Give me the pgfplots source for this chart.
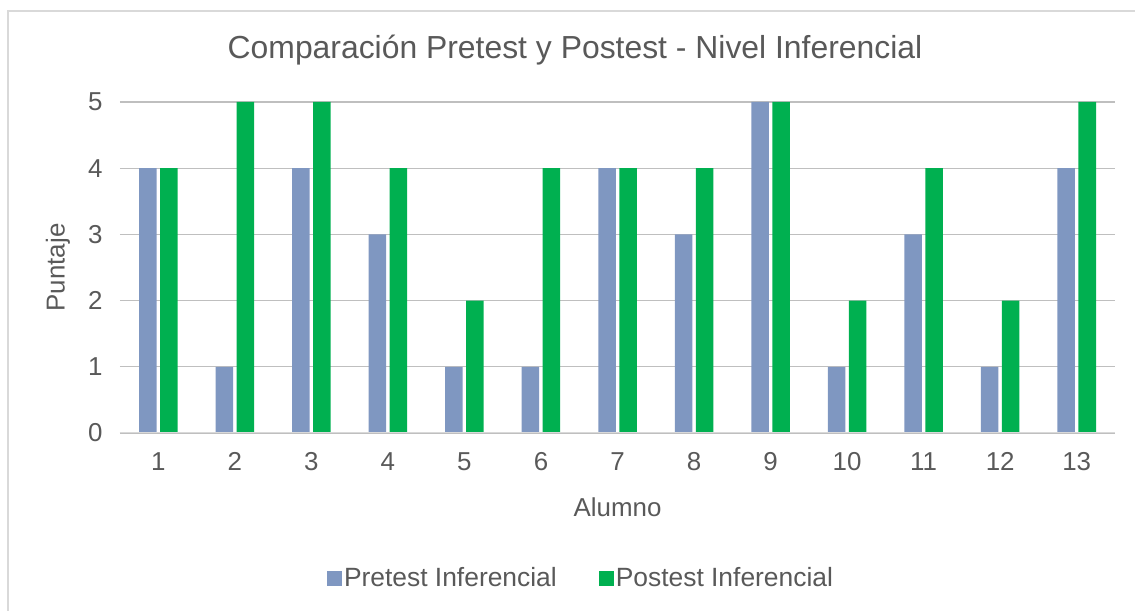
\documentclass[border=0pt]{standalone}
\usepackage{pgfplots}
\pgfplotsset{compat=1.18}
\usepackage{fontspec}
\setmainfont{Liberation Sans}
\definecolor{pre}{HTML}{7F97C1}
\definecolor{post}{HTML}{00B050}
\definecolor{txt}{HTML}{595959}
\definecolor{grid}{HTML}{D9D9D9}
\begin{document}
\begin{tikzpicture}[x=1bp,y=1bp]
\path[use as bounding box] (-120,-178) rectangle (1015,433);
\draw[grid, line width=1.5bp] (-112,-178) -- (-112,422) -- (1015,422);
\node[txt, font=\fontsize{32}{38}\selectfont, anchor=center] at (455,383) {Comparación Pretest y Postest - Nivel Inferencial};
\begin{axis}[
  at={(0,0)}, anchor=south west,
  scale only axis, width=995bp, height=331bp,
  xmin=0.5, xmax=13.5, ymin=0, ymax=5,
  xtick={1,...,13}, ytick={0,...,5},
  axis line style={draw=none},
  tick style={draw=none},
  xmajorgrids=false, ymajorgrids=true, grid style={grid, line width=1.2bp},
  /pgf/number format/assume math mode=true,
  ticklabel style={txt, font=\fontsize{26}{30}\selectfont},
  xticklabel style={yshift=-12bp},
  yticklabel style={xshift=-14bp},
  xlabel={Alumno}, ylabel={Puntaje},
  label style={txt, font=\fontsize{26}{30}\selectfont},
  xlabel style={at={(axis description cs:0.5,-0.2236)}, anchor=center},
  ylabel style={at={(axis description cs:-0.0623,0.5)}, anchor=center},
  ybar, bar width=17.5bp,
  legend style={at={(461bp,-145bp)}, anchor=center, draw=none, legend columns=2,
    font=\fontsize{26.5}{30}\selectfont, text=txt, /tikz/every even column/.append style={column sep=40bp}},
  legend image code/.code={\fill[#1] (0bp,-7.5bp) rectangle (15bp,7.5bp);},
]
\addplot[fill=pre, draw=none, bar shift=-10.5bp] coordinates {(1,4) (2,1) (3,4) (4,3) (5,1) (6,1) (7,4) (8,3) (9,5) (10,1) (11,3) (12,1) (13,4)};
\addplot[fill=post, draw=none, bar shift=10.5bp] coordinates {(1,4) (2,5) (3,5) (4,4) (5,2) (6,4) (7,4) (8,4) (9,5) (10,2) (11,4) (12,2) (13,5)};
\draw[grid, line width=1.5bp] (rel axis cs:0,0) -- (rel axis cs:1,0);
\legend{Pretest Inferencial, Postest Inferencial}
\end{axis}
\end{tikzpicture}
\end{document}
